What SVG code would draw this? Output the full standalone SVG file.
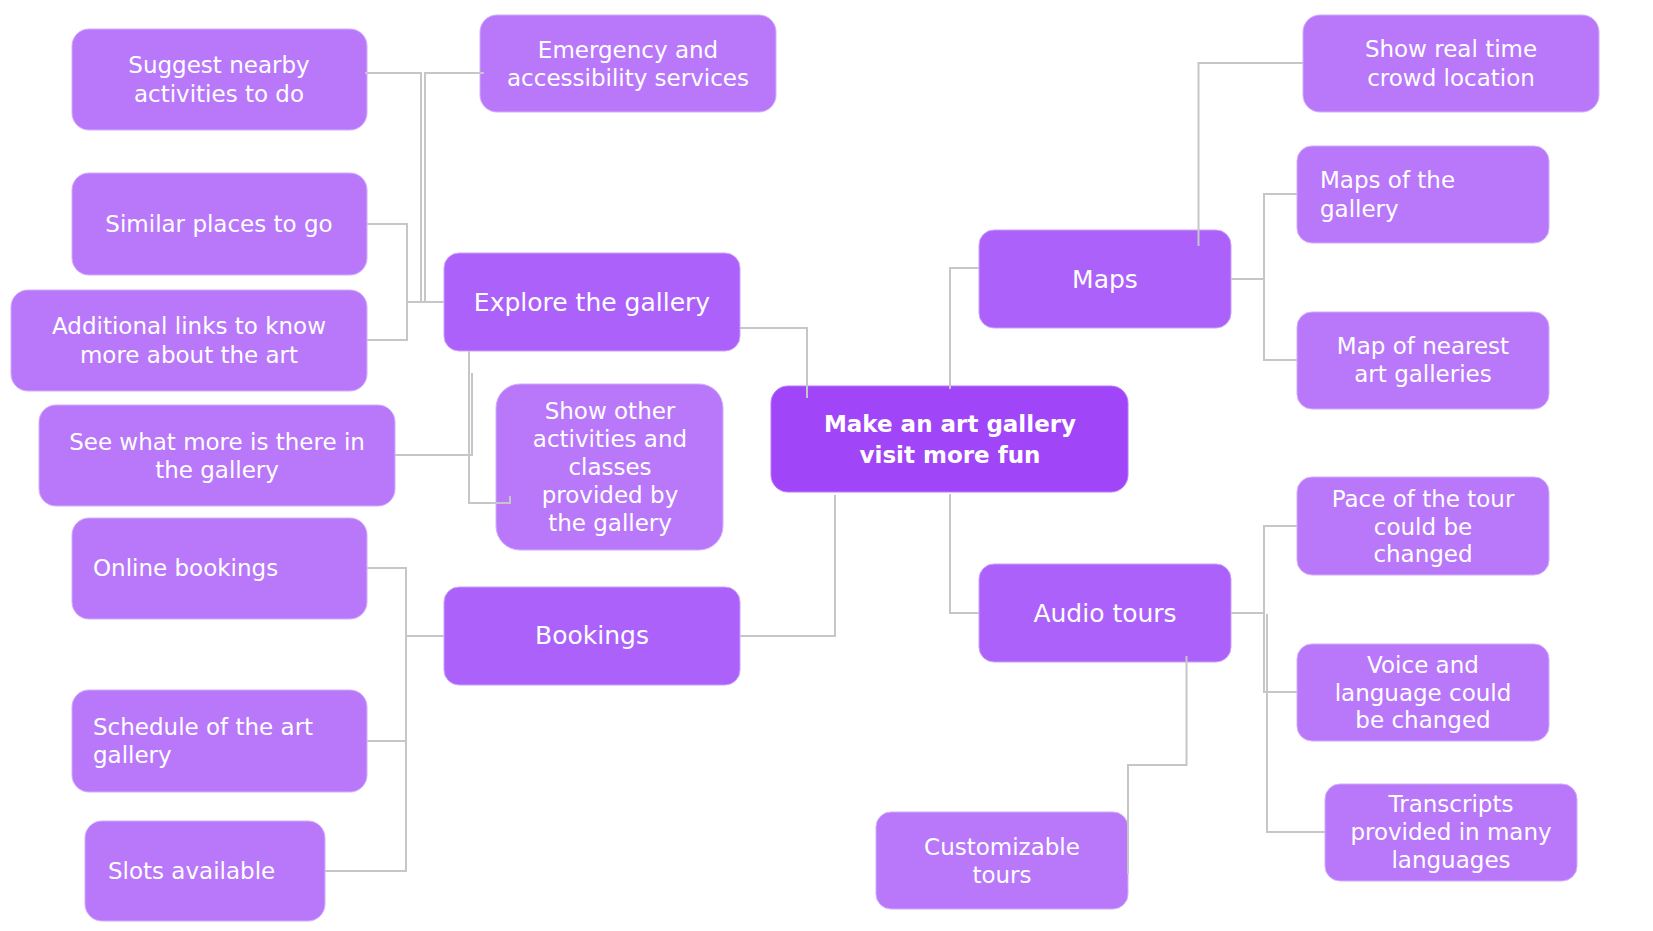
<svg xmlns="http://www.w3.org/2000/svg" width="1653" height="931" viewBox="0 0 1653 931">
<style>
.leaf{fill:#b978fa;stroke:#d2acfc;stroke-width:1}
.mid{fill:#ac62fa;stroke:#c9a0fc;stroke-width:1}
.root{fill:#a045f7;stroke:#b978fa;stroke-width:1}
text{font-family:"DejaVu Sans","Open Sans",sans-serif;fill:#ffffff;font-size:23px}
.c{text-anchor:middle}
.m{font-size:25px}
.r{font-size:23px;font-weight:bold}
.lines path{fill:none;stroke:#c6c6c6;stroke-width:2}
</style>
<rect width="1653" height="931" fill="#ffffff"/>
<g id="n-suggest"><rect class="leaf" x="72" y="29" width="295" height="101" rx="17"/><text class="c" x="219" y="73">Suggest nearby</text><text class="c" x="219" y="102">activities to do</text></g>
<g id="n-emergency"><rect class="leaf" x="480" y="15" width="296" height="97" rx="17"/><text class="c" x="628" y="58">Emergency and</text><text class="c" x="628" y="86">accessibility services</text></g>
<g id="n-similar"><rect class="leaf" x="72" y="173" width="295" height="102" rx="17"/><text class="c" x="219" y="232">Similar places to go</text></g>
<g id="n-additional"><rect class="leaf" x="11" y="290" width="356" height="101" rx="17"/><text class="c" x="189" y="334">Additional links to know</text><text class="c" x="189" y="363">more about the art</text></g>
<g id="n-seemore"><rect class="leaf" x="39" y="405" width="356" height="101" rx="17"/><text class="c" x="217" y="450">See what more is there in</text><text class="c" x="217" y="478">the gallery</text></g>
<g id="n-showother"><rect class="leaf" x="496" y="384" width="227" height="166" rx="24"/><text class="c" x="610" y="419">Show other</text><text class="c" x="610" y="447">activities and</text><text class="c" x="610" y="475">classes</text><text class="c" x="610" y="503">provided by</text><text class="c" x="610" y="531">the gallery</text></g>
<g id="n-online"><rect class="leaf" x="72" y="518" width="295" height="101" rx="17"/><text x="93" y="576">Online bookings</text></g>
<g id="n-schedule"><rect class="leaf" x="72" y="690" width="295" height="102" rx="17"/><text x="93" y="735">Schedule of the art</text><text x="93" y="763">gallery</text></g>
<g id="n-slots"><rect class="leaf" x="85" y="821" width="240" height="100" rx="17"/><text x="108" y="879">Slots available</text></g>
<g id="n-explore"><rect class="mid" x="444" y="253" width="296" height="98" rx="15"/><text class="c m" x="592" y="311">Explore the gallery</text></g>
<g id="n-bookings"><rect class="mid" x="444" y="587" width="296" height="98" rx="15"/><text class="c m" x="592" y="644">Bookings</text></g>
<g id="n-root"><rect class="root" x="771" y="386" width="357" height="106" rx="17"/><text class="c r" x="950" y="432">Make an art gallery</text><text class="c r" x="950" y="463">visit more fun</text></g>
<g id="n-maps"><rect class="mid" x="979" y="230" width="252" height="98" rx="15"/><text class="c m" x="1105" y="288">Maps</text></g>
<g id="n-audio"><rect class="mid" x="979" y="564" width="252" height="98" rx="15"/><text class="c m" x="1105" y="622">Audio tours</text></g>
<g id="n-realtime"><rect class="leaf" x="1303" y="15" width="296" height="97" rx="17"/><text class="c" x="1451" y="57">Show real time</text><text class="c" x="1451" y="86">crowd location</text></g>
<g id="n-mapsgallery"><rect class="leaf" x="1297" y="146" width="252" height="97" rx="15"/><text x="1320" y="188">Maps of the</text><text x="1320" y="217">gallery</text></g>
<g id="n-nearest"><rect class="leaf" x="1297" y="312" width="252" height="97" rx="15"/><text class="c" x="1423" y="354">Map of nearest</text><text class="c" x="1423" y="382">art galleries</text></g>
<g id="n-pace"><rect class="leaf" x="1297" y="477" width="252" height="98" rx="15"/><text class="c" x="1423" y="507">Pace of the tour</text><text class="c" x="1423" y="535">could be</text><text class="c" x="1423" y="562">changed</text></g>
<g id="n-voice"><rect class="leaf" x="1297" y="644" width="252" height="97" rx="15"/><text class="c" x="1423" y="673">Voice and</text><text class="c" x="1423" y="701">language could</text><text class="c" x="1423" y="728">be changed</text></g>
<g id="n-transcripts"><rect class="leaf" x="1325" y="784" width="252" height="97" rx="15"/><text class="c" x="1451" y="812">Transcripts</text><text class="c" x="1451" y="840">provided in many</text><text class="c" x="1451" y="868">languages</text></g>
<g id="n-custom"><rect class="leaf" x="876" y="812" width="252" height="97" rx="15"/><text class="c" x="1002" y="855">Customizable</text><text class="c" x="1002" y="883">tours</text></g>
<g class="lines" id="connectors">
<path d="M444,302 H421 V73 H365"/>
<path d="M444,302 H425 V73 H484"/>
<path d="M444,302 H407 V224 H367"/>
<path d="M407,302 V340 H367"/>
<path d="M395,455 H472 V373"/>
<path d="M469,351 V503 H510 V496"/>
<path d="M740,328 H807 V398"/>
<path d="M367,568 H406 V871 H325"/>
<path d="M367,741 H406"/>
<path d="M406,636 H444"/>
<path d="M740,636 H835 V495"/>
<path d="M950,389 V268 H979"/>
<path d="M1198.5,246 V63 H1303"/>
<path d="M1231,279 H1264"/>
<path d="M1297,194 H1264 V360 H1297"/>
<path d="M950,494 V613 H979"/>
<path d="M1231,613 H1264"/>
<path d="M1297,526 H1264 V692 H1297"/>
<path d="M1267,614 V832 H1325"/>
<path d="M1186.5,656 V765 H1128 V874"/>
</g>
</svg>
